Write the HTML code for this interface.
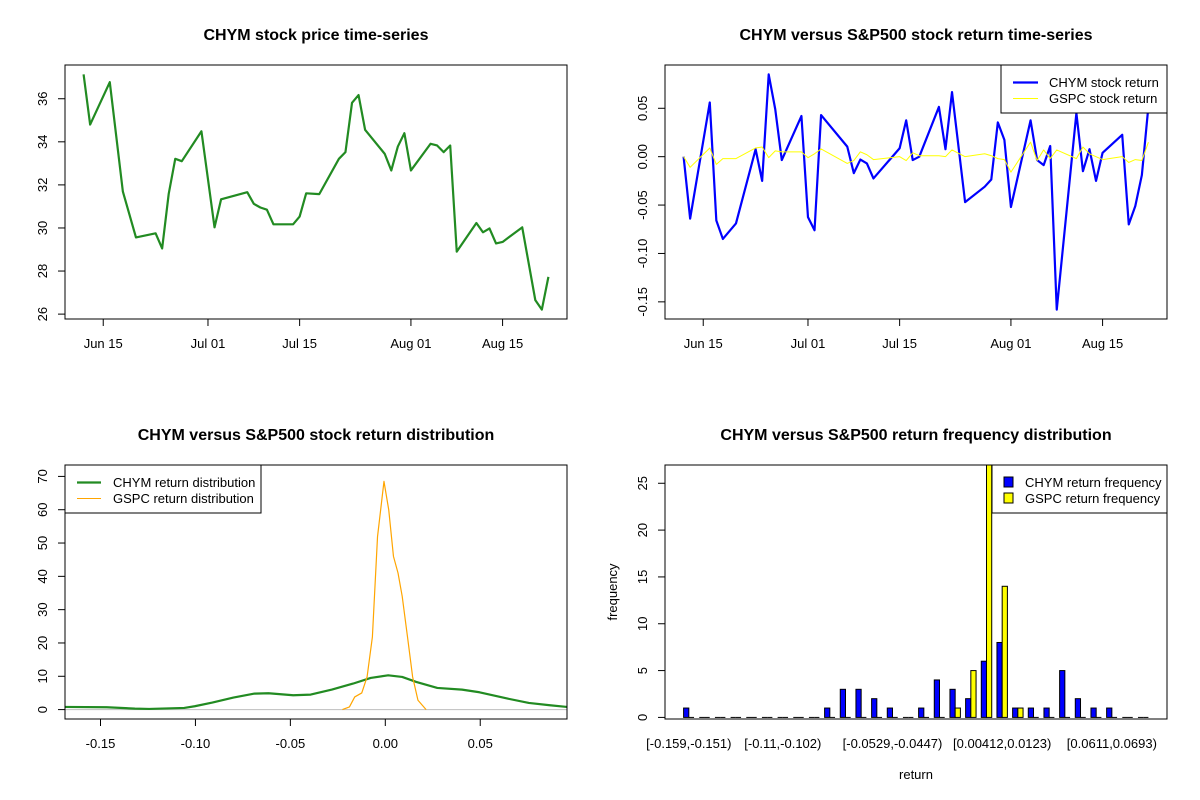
<!DOCTYPE html>
<html><head><meta charset="utf-8"><style>
html,body{margin:0;padding:0;background:#fff;}
svg{display:block;font-family:"Liberation Sans",Arial,sans-serif;}
</style></head><body>
<svg id="chart" width="1200" height="800" viewBox="0 0 1200 800" xmlns="http://www.w3.org/2000/svg">
<rect x="0" y="0" width="1200" height="800" fill="#fff"/>
<defs>
<clipPath id="clip4"><rect x="665" y="465" width="502" height="254"/></clipPath>
<clipPath id="clip3"><rect x="65" y="465" width="502" height="254"/></clipPath>
</defs>
</svg>
<script>
// ---- data ----
const priceDates = ["06-12","06-13","06-16","06-18","06-20","06-23","06-24","06-25","06-26","06-27","06-30","07-02","07-03","07-07","07-08","07-09","07-10","07-11","07-14","07-15","07-16","07-18","07-21","07-22","07-23","07-24","07-25","07-28","07-29","07-30","07-31","08-01","08-04","08-05","08-06","08-07","08-08","08-11","08-12","08-13","08-14","08-15","08-18","08-20","08-21","08-22"];
const prices = [37.13,34.80,36.77,31.69,29.56,29.75,29.05,31.58,33.21,33.10,34.49,30.03,31.33,31.66,31.12,30.95,30.85,30.17,30.17,30.53,31.61,31.57,33.21,33.52,35.81,36.17,34.56,33.44,32.67,33.78,34.40,32.67,33.91,33.83,33.52,33.83,28.90,30.23,29.80,29.98,29.28,29.35,30.03,26.65,26.21,27.73];
const retDates = ["06-12","06-13","06-16","06-17","06-18","06-20","06-23","06-24","06-25","06-26","06-27","06-30","07-01","07-02","07-03","07-07","07-08","07-09","07-10","07-11","07-15","07-16","07-17","07-18","07-21","07-22","07-23","07-25","07-28","07-29","07-30","07-31","08-01","08-04","08-05","08-06","08-07","08-08","08-11","08-12","08-13","08-14","08-15","08-18","08-19","08-20","08-21","08-22"];
const chymRet = [0,-0.064,0.056,-0.066,-0.085,-0.069,0.0077,-0.025,0.085,0.049,-0.0035,0.042,-0.0625,-0.076,0.043,0.0104,-0.017,-0.003,-0.007,-0.0225,0.0087,0.0375,-0.0035,0,0.0514,0.0077,0.0667,-0.047,-0.031,-0.0236,0.0354,0.0174,-0.052,0.0375,-0.0035,-0.0087,0.011,-0.158,0.045,-0.015,0.0077,-0.025,0.004,0.0226,-0.07,-0.051,-0.019,0.052];
const gspcRet = [0,-0.011,0.009,-0.008,-0.002,-0.002,0.009,0.01,-0.001,0.006,0.005,0.005,-0.001,0.003,0.008,-0.007,-0.004,0.005,0.002,-0.003,0,-0.004,0.004,0.001,0.001,0,0.007,0,0.003,0.001,-0.002,-0.003,-0.016,0.015,-0.004,0.007,-0.002,0.007,-0.002,0.01,0.003,0,-0.003,0,-0.006,-0.003,-0.004,0.015];
const dateTicks = ["06-15","07-01","07-15","08-01","08-15"];
const dateTickLabels = ["Jun 15","Jul 01","Jul 15","Aug 01","Aug 15"];
const priceTicks = [26,28,30,32,34,36];
const retTicks = [-0.15,-0.10,-0.05,0.00,0.05];
const retTickLabels = ["-0.15","-0.10","-0.05","0.00","0.05"];
const chymDensX = [-0.1687,-0.1467,-0.1319,-0.1244,-0.1059,-0.1004,-0.0911,-0.0800,-0.0689,-0.0615,-0.0485,-0.0393,-0.0281,-0.0170,-0.0077,0.0015,0.0089,0.0163,0.0274,0.0404,0.0496,0.0644,0.0756,0.0867,0.0957];
const chymDensY = [0.8,0.7,0.3,0.2,0.5,1.0,2.1,3.6,4.8,4.9,4.3,4.5,6.0,7.8,9.5,10.3,9.8,8.3,6.5,6.0,5.2,3.3,2.0,1.3,0.8];
const gspcDensX = [-0.0226,-0.0189,-0.0161,-0.0124,-0.0096,-0.0068,-0.0041,-0.0007,0.0018,0.0043,0.0067,0.0089,0.0117,0.0144,0.0172,0.0215];
const gspcDensY = [0,0.8,3.8,5.0,9.8,21.8,51.9,68.5,60,46,41,34,21.8,9.8,2.8,0];
const densXTicks = [-0.15,-0.10,-0.05,0.00,0.05];
const densXTickLabels = ["-0.15","-0.10","-0.05","0.00","0.05"];
const densYTicks = [0,10,20,30,40,50,60,70];
const binLabels = ["[-0.159,-0.151)","[-0.151,-0.143)","[-0.143,-0.135)","[-0.135,-0.126)","[-0.126,-0.118)","[-0.118,-0.11)","[-0.11,-0.102)","[-0.102,-0.0937)","[-0.0937,-0.0855)","[-0.0855,-0.0774)","[-0.0774,-0.0693)","[-0.0693,-0.0611)","[-0.0611,-0.0529)","[-0.0529,-0.0447)","[-0.0447,-0.0366)","[-0.0366,-0.0284)","[-0.0284,-0.0203)","[-0.0203,-0.0121)","[-0.0121,-0.00393)","[-0.00393,0.00412)","[0.00412,0.0123)","[0.0123,0.0204)","[0.0204,0.0286)","[0.0286,0.0367)","[0.0367,0.0449)","[0.0449,0.053)","[0.053,0.0611)","[0.0611,0.0693)","[0.0693,0.0774)","[0.0774,0.0856)"];
const shownBinLabels = [0,6,13,20,27];
const chymFreq = [1,0,0,0,0,0,0,0,0,1,3,3,2,1,0,1,4,3,2,6,8,1,1,1,5,2,1,1,0,0];
const gspcFreq = [0,0,0,0,0,0,0,0,0,0,0,0,0,0,0,0,0,1,5,27,14,1,0,0,0,0,0,0,0,0];
const freqTicks = [0,5,10,15,20,25];

// ---- helpers ----
const NS = "http://www.w3.org/2000/svg";
const svg = document.getElementById("chart");
function mk(tag, attrs, parent){
  const e = document.createElementNS(NS, tag);
  for (const k in attrs) e.setAttribute(k, attrs[k]);
  (parent || svg).appendChild(e);
  return e;
}
function txt(str, x, y, opts, parent){
  const e = mk("text", {x:x, y:y, "font-size": opts.size || 13, "text-anchor": opts.anchor || "middle", fill:"#000"}, parent);
  if (opts.bold) e.setAttribute("font-weight","bold");
  if (opts.rot) e.setAttribute("transform","rotate(-90 "+x+" "+y+")");
  e.textContent = str;
  return e;
}
function dayOf(s){ const p = s.split("-"); return (Date.UTC(2017, +p[0]-1, +p[1]) - Date.UTC(2017,5,15))/86400000; }
function lin(d0,d1,r0,r1){ return v => r0 + (v-d0)/(d1-d0)*(r1-r0); }
function pad(mn,mx){ const p=(mx-mn)*0.04; return [mn-p,mx+p]; }
function box(x0,y0,x1,y1,name){
  const b = mk("rect",{x:x0,y:y0,width:x1-x0,height:y1-y0,fill:"none",stroke:"#000","stroke-width":1});
  
  
}
function xAxis(vals, labels, sx, yb, name){
  const g = mk("g",{});
  
  
  mk("line",{x1:sx(vals[0]),x2:sx(vals[vals.length-1]),y1:yb,y2:yb,stroke:"#000"},g);
  vals.forEach((v,i)=>{
    mk("line",{x1:sx(v),x2:sx(v),y1:yb,y2:yb+7,stroke:"#000"},g);
    const t = txt(labels[i], sx(v), yb+29, {}, g);
    
    
  });
}
function yAxis(vals, labels, sy, xl, name){
  const g = mk("g",{});
  
  
  mk("line",{x1:xl,x2:xl,y1:sy(vals[0]),y2:sy(vals[vals.length-1]),stroke:"#000"},g);
  vals.forEach((v,i)=>{
    mk("line",{x1:xl-7,x2:xl,y1:sy(v),y2:sy(v),stroke:"#000"},g);
    const t = txt(labels[i], xl-18, sy(v), {rot:true}, g);
    
    
  });
}
function polyline(xs, ys, sx, sy, color, w, name, clip){
  const pts = xs.map((x,i)=>sx(x).toFixed(2)+","+sy(ys[i]).toFixed(2)).join(" ");
  const p = mk("polyline",{points:pts,fill:"none",stroke:color,"stroke-width":w,"stroke-linejoin":"round"});
  if (clip) p.setAttribute("clip-path","url(#"+clip+")");
  
  
  return p;
}

// ---- panel 1: price ----
(function(){
  const days = priceDates.map(dayOf);
  const xr = pad(Math.min(...days), Math.max(...days));
  const yr = pad(Math.min(...prices), Math.max(...prices));
  const sx = lin(xr[0], xr[1], 65, 567), sy = lin(yr[0], yr[1], 319, 65);
  const t = txt("CHYM stock price time-series", 316, 40, {bold:true,size:16});
  
  
  polyline(days, prices, sx, sy, "#228B22", 2.2, "chym-price-line");
  xAxis(dateTicks.map(dayOf), dateTickLabels, sx, 319, "price-x-axis");
  yAxis(priceTicks, priceTicks.map(String), sy, 65, "price-y-axis");
  box(65,65,567,319,"price-plot-frame");
})();

// ---- panel 2: returns ----
(function(){
  const days = retDates.map(dayOf);
  const xr = pad(Math.min(...days), Math.max(...days));
  const yr = pad(Math.min(...chymRet), Math.max(...chymRet));
  const sx = lin(xr[0], xr[1], 665, 1167), sy = lin(yr[0], yr[1], 319, 65);
  const t = txt("CHYM versus S&P500 stock return time-series", 916, 40, {bold:true,size:16});
  
  
  polyline(days, chymRet, sx, sy, "#0000FF", 2.2, "chym-return-line");
  polyline(days, gspcRet, sx, sy, "#FFFF00", 1, "gspc-return-line");
  xAxis(dateTicks.map(dayOf), dateTickLabels, sx, 319, "return-x-axis");
  yAxis(retTicks, retTickLabels, sy, 665, "return-y-axis");
  box(665,65,1167,319,"return-plot-frame");
  const lg = mk("g",{});
  
  
  mk("rect",{x:1001,y:65,width:166,height:48,fill:"#fff",stroke:"#000"},lg);
  mk("line",{x1:1013,x2:1038,y1:82.5,y2:82.5,stroke:"#0000FF","stroke-width":2.2},lg);
  mk("line",{x1:1013,x2:1038,y1:98.5,y2:98.5,stroke:"#FFFF00","stroke-width":1},lg);
  const a = txt("CHYM stock return", 1049, 87, {anchor:"start"}, lg);
  
  
  const b = txt("GSPC stock return", 1049, 103, {anchor:"start"}, lg);
  
  
})();

// ---- panel 3: density ----
(function(){
  const xr = [chymDensX[0], chymDensX[chymDensX.length-1]];
  const yr = pad(0, 70.6);
  const sx = lin(xr[0], xr[1], 65, 567), sy = lin(yr[0], yr[1], 719, 465);
  const t = txt("CHYM versus S&P500 stock return distribution", 316, 440, {bold:true,size:16});
  
  
  const zl = mk("line",{x1:65,x2:567,y1:sy(0),y2:sy(0),stroke:"#BEBEBE"});
  
  
  polyline(chymDensX, chymDensY, sx, sy, "#228B22", 2.2, "chym-density-curve", "clip3");
  polyline(gspcDensX, gspcDensY, sx, sy, "#FFA500", 1.2, "gspc-density-curve", "clip3");
  xAxis(densXTicks, densXTickLabels, sx, 719, "density-x-axis");
  yAxis(densYTicks, densYTicks.map(String), sy, 65, "density-y-axis");
  box(65,465,567,719,"density-plot-frame");
  const lg = mk("g",{});
  
  
  mk("rect",{x:65,y:465,width:196,height:48,fill:"#fff",stroke:"#000"},lg);
  mk("line",{x1:77,x2:101,y1:482.5,y2:482.5,stroke:"#228B22","stroke-width":2.2},lg);
  mk("line",{x1:77,x2:101,y1:498.5,y2:498.5,stroke:"#FFA500","stroke-width":1},lg);
  const a = txt("CHYM return distribution", 113, 487, {anchor:"start"}, lg);
  
  
  const b = txt("GSPC return distribution", 113, 503, {anchor:"start"}, lg);
  
  
})();

// ---- panel 4: frequency bars ----
(function(){
  const n = chymFreq.length;
  const xr = pad(1, 3*n);
  const sx = lin(xr[0], xr[1], 665, 1167);
  const sy = lin(-0.17, 26.95, 719, 465);
  const t = txt("CHYM versus S&P500 return frequency distribution", 916, 440, {bold:true,size:16});
  
  
  const g = mk("g",{"clip-path":"url(#clip4)"});
  
  
  function bar(xa, xb, v, color, name){
    let el;
    if (v === 0) {
      el = mk("line",{x1:xa,x2:xb,y1:sy(0),y2:sy(0),stroke:"#000","stroke-width":1},g);
    } else {
      el = mk("rect",{x:xa,y:Math.min(sy(v),sy(0)),width:xb-xa,height:Math.abs(sy(0)-sy(v)),fill:color,stroke:"#000","stroke-width":1},g);
    }
    
    
  }
  for (let i=0;i<n;i++){
    const x1 = sx(3*i+1), x2 = sx(3*i+2), x3 = sx(3*i+3);
    bar(x1, x2, chymFreq[i], "#0000FF", "bar-chym");
    bar(x2, x3, gspcFreq[i], "#FFFF00", "bar-gspc");
  }
  shownBinLabels.forEach(i=>{
    const lb = txt(binLabels[i], sx(3*i+2), 748, {});
    
    
  });
  yAxis(freqTicks, freqTicks.map(String), sy, 665, "frequency-y-axis");
  const xt = txt("return", 916, 779, {});
  
  
  const yt = txt("frequency", 617, 592, {rot:true});
  
  
  box(665,465,1167,719,"frequency-plot-frame");
  const lg = mk("g",{});
  
  
  mk("rect",{x:992,y:465,width:175,height:48,fill:"#fff",stroke:"#000"},lg);
  mk("rect",{x:1004,y:477,width:9,height:10,fill:"#0000FF",stroke:"#000"},lg);
  mk("rect",{x:1004,y:493,width:9,height:10,fill:"#FFFF00",stroke:"#000"},lg);
  const a = txt("CHYM return frequency", 1025, 487, {anchor:"start"}, lg);
  
  
  const b = txt("GSPC return frequency", 1025, 503, {anchor:"start"}, lg);
  
  
})();
</script>
</body></html>
